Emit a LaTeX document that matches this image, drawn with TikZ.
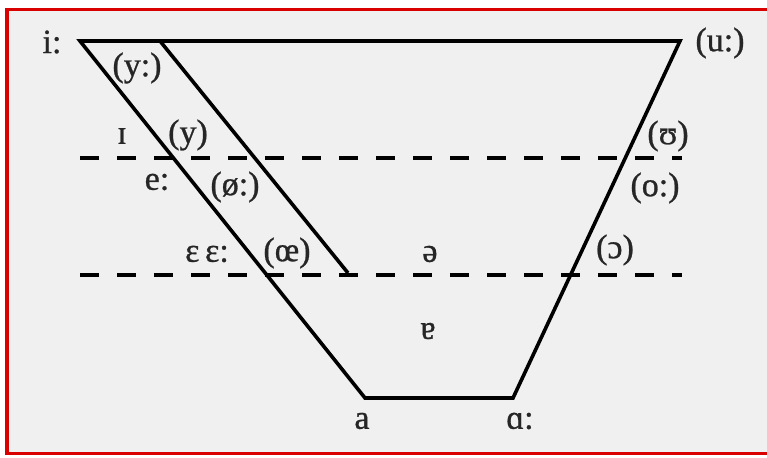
\documentclass[tikz,border=0pt]{standalone}
\usepackage{fontspec}
\setmainfont[FakeBold=0.8]{Liberation Serif}
\begin{document}
\begin{tikzpicture}[x=1pt,y=-1pt,
  edge/.style={line width=3.6pt,line join=miter},
  dashline/.style={line width=3.6pt,dash pattern=on 19pt off 18pt},
  lbl/.style={font=\fontsize{34}{38}\selectfont,inner sep=0pt,text=black!85}]
\useasboundingbox (0,0) rectangle (767,457);
\fill[white] (0,0) rectangle (767,457);
\fill[black!6] (8,10) rectangle (767,453);
\draw[red!85!black,line width=3.5pt] (767,9.5) -- (7,9.5) -- (7,453.5) -- (767,453.5);
% corners
\coordinate (tl) at (80,41);
\coordinate (tr) at (680,41);
\coordinate (bl) at (365,398);
\coordinate (br) at (513,398);
\coordinate (it) at (160,41);
\coordinate (ib) at (348,273);
\coordinate (d1a) at (80,158);
\coordinate (d1b) at (682,158);
\coordinate (d2a) at (80,275);
\coordinate (d2b) at (682,275);
\draw[dashline] (d1a) -- (d1b);
\draw[dashline] (d2a) -- (d2b);
\draw[edge] (bl) -- (tl) -- (tr) -- (br) -- cycle;
\draw[edge] (it) -- (ib);
% labels
\node[lbl] (li) at (52,42) {i:};
\node[lbl] (lyl) at (137,68) {(y:)};
\node[lbl] (lI) at (122,136) {ɪ};
\node[lbl] (ly) at (188,135) {(y)};
\node[lbl] (le) at (157,182) {e:};
\node[lbl] (lo) at (235,187) {(ø:)};
\node[lbl] (leps) at (207,254) {ɛ\,ɛ:};
\node[lbl] (loe) at (287,253) {(œ)};
\node[lbl] (lschwa) at (430,254) {ə};
\node[lbl] (lopen) at (615,250) {(ɔ)};
\node[lbl] (lolong) at (655,188) {(o:)};
\node[lbl] (lup) at (668,136) {(ʊ)};
\node[lbl] (lu) at (720,43) {(u:)};
\node[lbl] (lturna) at (428,331) {ɐ};
\node[lbl] (la) at (362,421) {a};
\node[lbl] (lalpha) at (520,421) {ɑ:};
\end{tikzpicture}
\end{document}
